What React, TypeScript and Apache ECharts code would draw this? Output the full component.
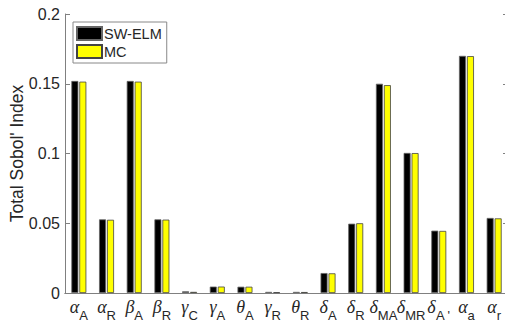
import React, { useEffect, useRef } from "react";
import * as echarts from "echarts";

const greek = ["α", "α", "β", "β", "γ", "γ", "θ", "γ", "θ", "δ", "δ", "δ", "δ", "δ", "α", "α"];
const subs = ["A", "R", "A", "R", "C", "A", "A", "R", "R", "A", "R", "MA", "MR", "A '", "a", "r"];
const categories = greek.map((g, i) => `${g}_${subs[i]}`);

const swElm = [0.152, 0.0528, 0.152, 0.0528, 0.0012, 0.0046, 0.0045, 0.0008, 0.0008, 0.0143, 0.0497, 0.150, 0.1004, 0.0447, 0.170, 0.0538];
const mc = [0.1515, 0.0525, 0.1515, 0.0526, 0.0008, 0.0046, 0.0045, 0.0006, 0.0007, 0.0141, 0.0500, 0.149, 0.1003, 0.0445, 0.1698, 0.0535];

const yTicks = [0, 0.05, 0.1, 0.15, 0.2];

const axisColor = "#808080";
const textColor = "#262626";

export default function App() {
  const ref = useRef<HTMLDivElement>(null);
  useEffect(() => {
    if (!ref.current) return;
    const chart = echarts.init(ref.current, null, { renderer: "svg" });
    chart.setOption({
      animation: false,
      backgroundColor: "#ffffff",
      grid: { left: 65, top: 14, right: -3, bottom: 30, containLabel: false, outerBoundsMode: "none" },
      legend: {
        orient: "vertical",
        left: 73,
        top: 22,
        padding: [4, 5, 4, 3],
        itemGap: 3,
        itemWidth: 25,
        itemHeight: 13,
        backgroundColor: "#ffffff",
        borderColor: "#888",
        borderWidth: 1,
        borderRadius: 0,
        textStyle: { fontFamily: "Liberation Sans", fontSize: 14.5, color: textColor, padding: [0, 0, 0, -3] },
        data: [
          { name: "SW-ELM", icon: "rect" },
          { name: "MC", icon: "rect" },
        ],
      },
      xAxis: [
        {
          type: "category",
          data: categories,
          boundaryGap: true,
          axisLine: { lineStyle: { color: axisColor, width: 1 } },
          axisTick: { inside: true, length: 5, alignWithLabel: true, lineStyle: { color: axisColor } },
          axisLabel: {
            interval: 0,
            margin: 5,
            hideOverlap: false,
            formatter: (_v: string, i: number) => `{g|${greek[i]}}{s|${subs[i]}}`,
            rich: {
              g: { fontFamily: "Liberation Serif", fontStyle: "italic", fontSize: 18, color: textColor, verticalAlign: "bottom", padding: [0, 0, 6, 0] },
              s: { fontFamily: "Liberation Sans", fontSize: 13, color: textColor, verticalAlign: "bottom" },
            },
          },
        },
        {
          type: "category",
          position: "top",
          data: categories,
          boundaryGap: true,
          axisLine: { lineStyle: { color: axisColor, width: 1 } },
          axisTick: { inside: true, length: 5, alignWithLabel: true, lineStyle: { color: axisColor } },
          axisLabel: { show: false },
        },
      ],
      yAxis: [
        {
          type: "value",
          min: 0,
          max: 0.2,
          interval: 0.05,
          name: "Total Sobol' Index",
          nameLocation: "middle",
          nameGap: 39,
          nameMoveOverlap: false,
          nameTextStyle: { fontFamily: "Liberation Sans", fontSize: 17.5, color: textColor },
          axisLine: { show: true, lineStyle: { color: axisColor, width: 1 } },
          axisTick: { show: true, inside: true, length: 5, lineStyle: { color: axisColor } },
          splitLine: { show: false },
          axisLabel: {
            fontFamily: "Liberation Sans",
            fontSize: 16,
            color: textColor,
            margin: 5,
            formatter: (v: number) => (yTicks.includes(v) ? String(v) : ""),
          },
        },
        {
          type: "value",
          position: "right",
          min: 0,
          max: 0.2,
          interval: 0.05,
          axisLine: { show: true, lineStyle: { color: axisColor, width: 1 } },
          axisTick: { show: true, inside: true, length: 5, lineStyle: { color: axisColor } },
          splitLine: { show: false },
          axisLabel: { show: false },
        },
      ],
      series: [
        {
          name: "SW-ELM",
          type: "bar",
          data: swElm,
          barWidth: 7,
          barGap: "14%",
          itemStyle: { color: "#000000", borderColor: "#666666", borderWidth: 0.8 },
        },
        {
          name: "MC",
          type: "bar",
          data: mc,
          barWidth: 7,
          barGap: "14%",
          itemStyle: { color: "#ffff00", borderColor: "#444444", borderWidth: 0.8 },
        },
      ],
    });
    return () => chart.dispose();
  }, []);
  return <div ref={ref} style={{ width: 505, height: 323, position: "absolute", left: 0, top: 0 }} />;
}
